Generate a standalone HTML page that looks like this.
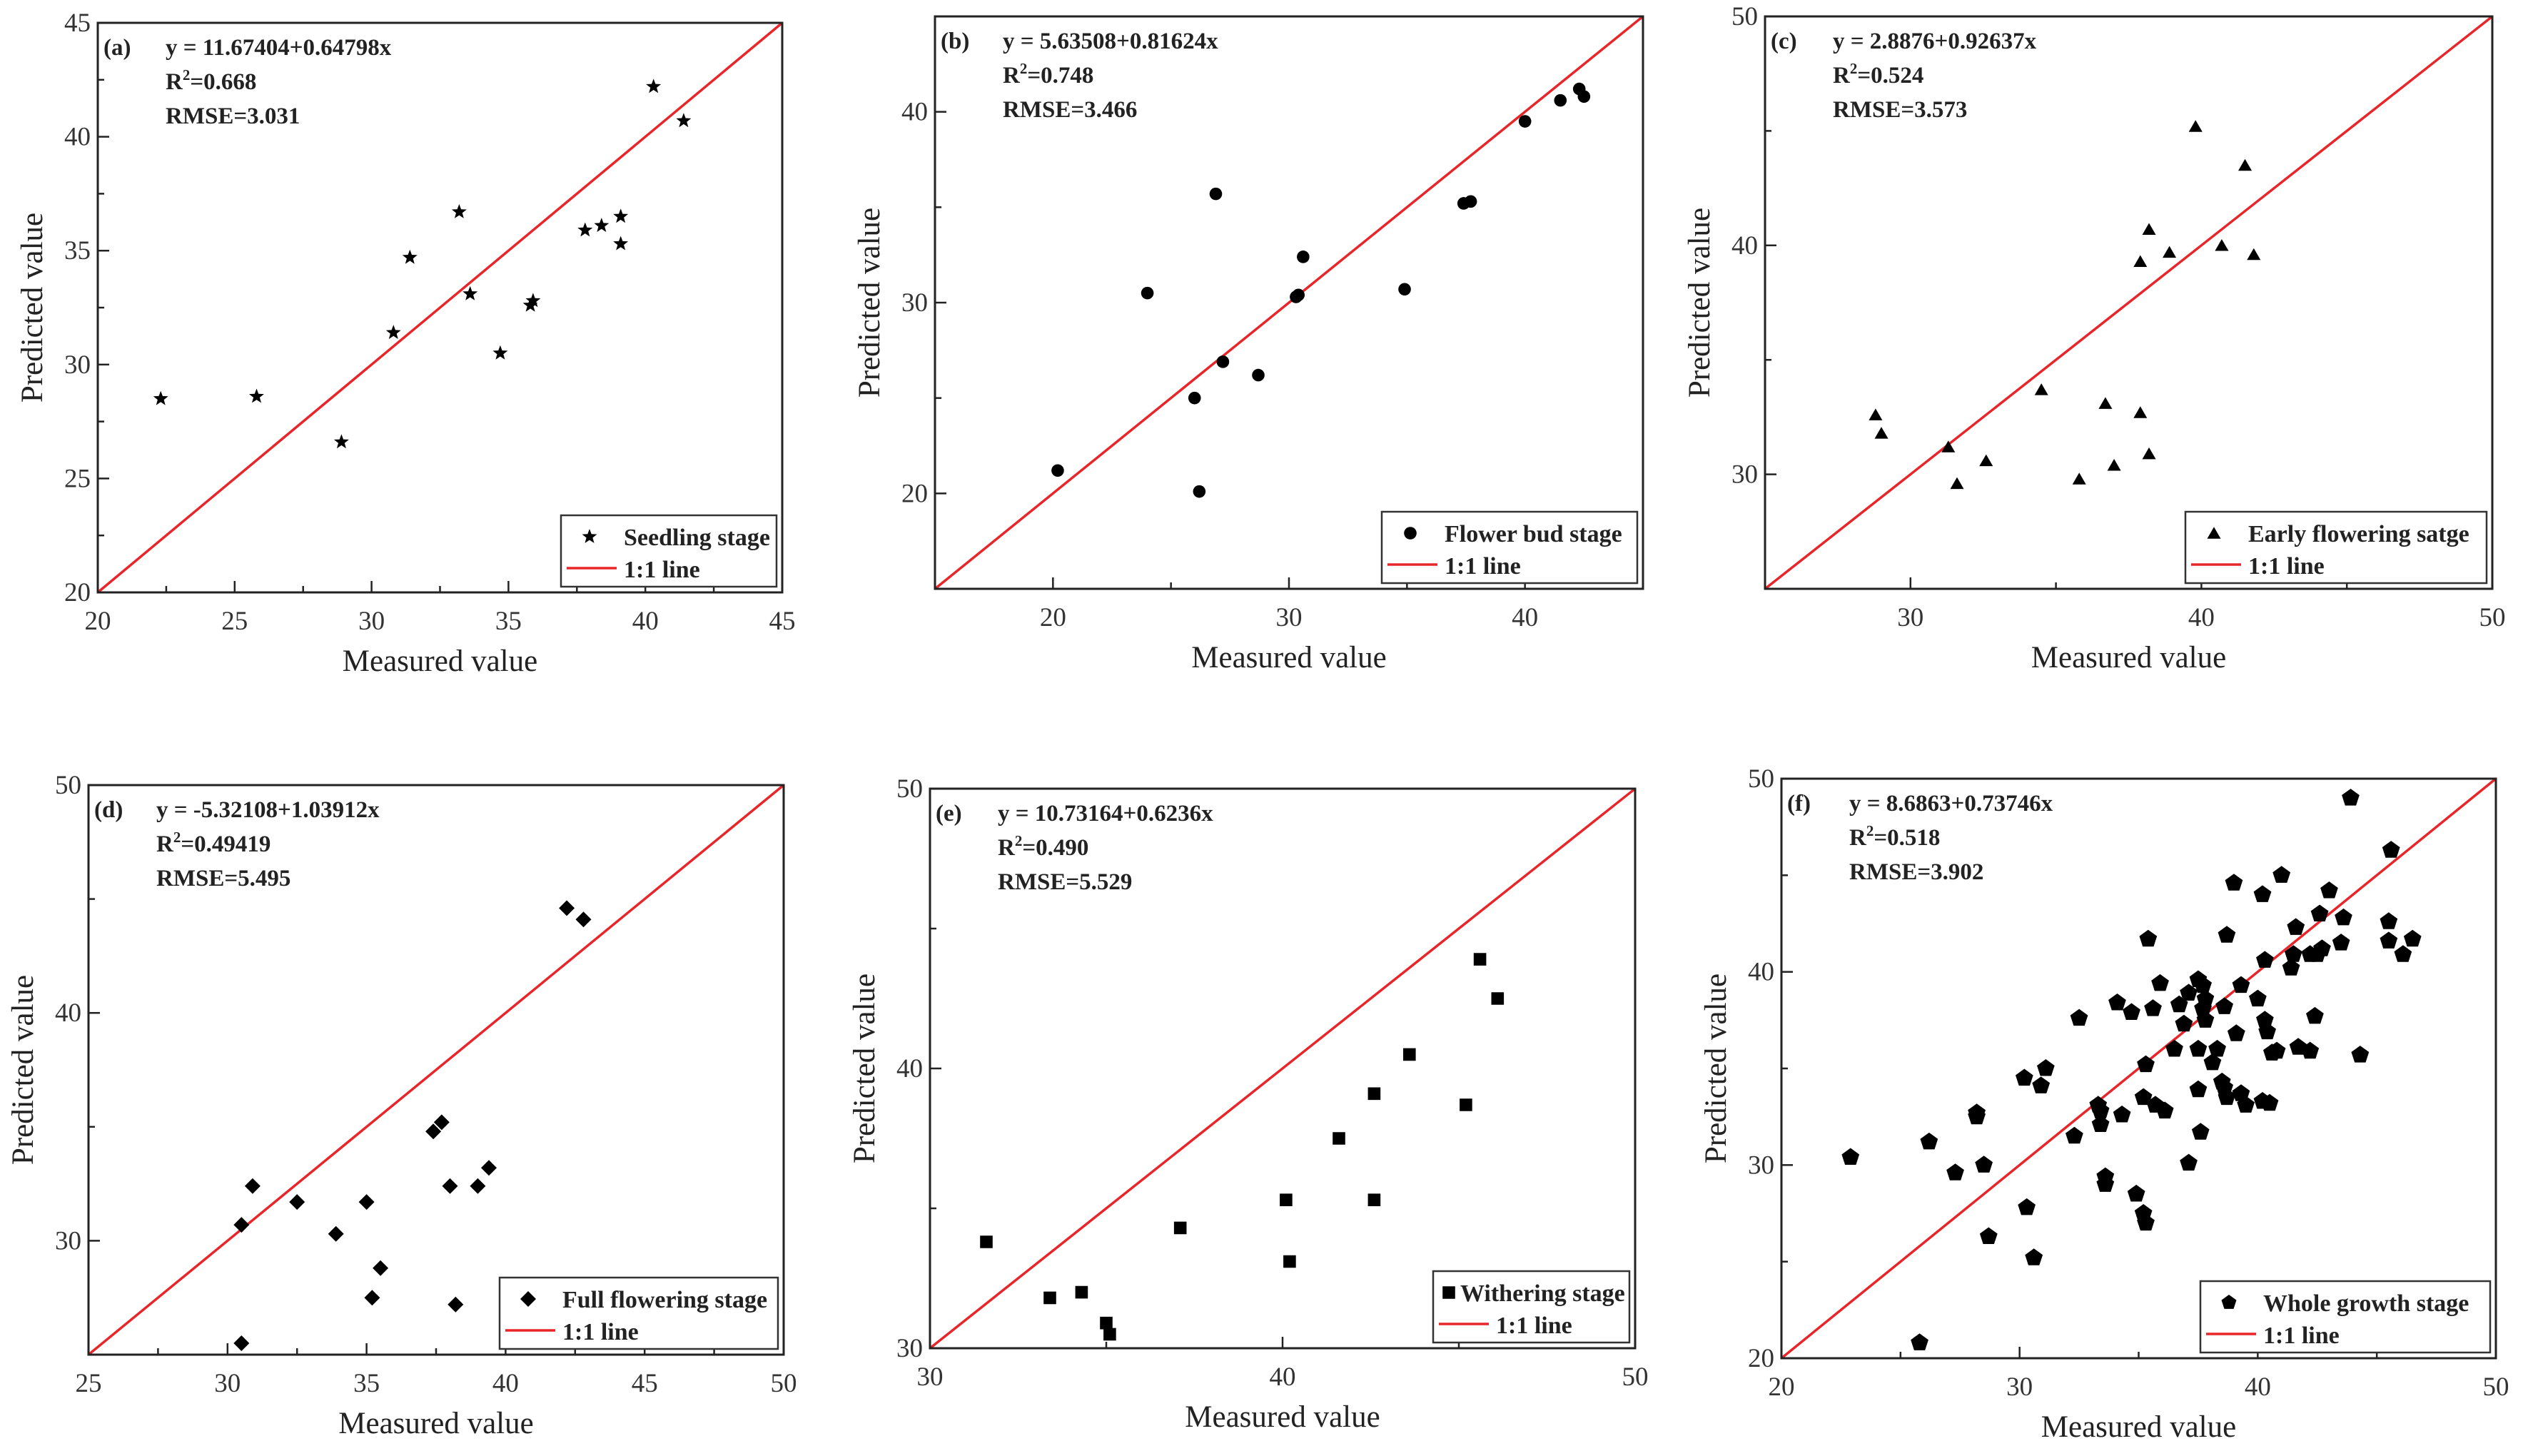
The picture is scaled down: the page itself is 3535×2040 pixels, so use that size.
<!DOCTYPE html>
<html><head><meta charset="utf-8">
<style>
html,body{margin:0;padding:0;background:#fff;}
svg{display:block;}
svg text{font-family:"Liberation Serif","DejaVu Serif",serif;}
</style></head>
<body>
<svg id="fig" width="3535" height="2040" viewBox="0 0 3535 2040" xmlns="http://www.w3.org/2000/svg" font-family="Liberation Serif, serif"></svg>
<script>
// ---- data ----
const aX=[22.3,25.8,28.9,30.8,31.4,33.2,33.6,34.7,35.8,35.9,37.8,38.4,39.1,39.1,40.3,41.4];
const aY=[28.5,28.6,26.6,31.4,34.7,36.7,33.1,30.5,32.6,32.8,35.9,36.1,36.5,35.3,42.2,40.7];
const bX=[20.2,24.0,26.0,26.2,26.9,27.2,28.7,30.3,30.4,30.6,34.9,37.4,37.7,40.0,41.5,42.3,42.5];
const bY=[21.2,30.5,25.0,20.1,35.7,26.9,26.2,30.3,30.4,32.4,30.7,35.2,35.3,39.5,40.6,41.2,40.8];
const cX=[28.8,29.0,31.3,31.6,32.6,34.5,35.8,36.7,37.0,37.9,38.2,37.9,38.2,38.9,39.8,40.7,41.5,41.8];
const cY=[32.6,31.8,31.2,29.6,30.6,33.7,29.8,33.1,30.4,32.7,30.9,39.3,40.7,39.7,45.2,40.0,43.5,39.6];
const dX=[30.5,30.5,30.9,32.5,33.9,35.0,35.2,35.5,37.4,37.7,38.0,38.2,39.0,39.4,42.2,42.8];
const dY=[30.7,25.5,32.4,31.7,30.3,31.7,27.5,28.8,34.8,35.2,32.4,27.2,32.4,33.2,44.6,44.1];
const eX=[31.6,33.4,34.3,35.0,35.1,37.1,40.1,40.2,41.6,42.6,42.6,43.6,45.2,45.6,46.1];
const eY=[33.8,31.8,32.0,30.9,30.5,34.3,35.3,33.1,37.5,39.1,35.3,40.5,38.7,43.9,42.5];
const fX=[22.9,25.8,26.2,27.3,28.2,28.2,28.5,28.7,30.2,30.3,30.6,30.9,31.1,32.3,32.5,33.3,33.4,33.4,33.6,33.6,34.1,34.3,34.7,34.9,35.2,35.3,35.2,35.3,35.4,35.6,35.7,35.9,36.1,36.5,36.7,36.9,37.1,37.1,37.5,37.5,37.5,37.6,37.7,37.7,37.8,37.8,38.1,38.3,38.5,38.6,38.6,38.7,38.7,39.0,39.1,39.3,39.3,39.5,40.0,40.2,40.2,40.3,40.3,40.4,40.5,40.6,40.8,41.0,41.4,41.5,41.6,41.7,42.2,42.2,42.4,42.5,42.6,42.7,43.0,43.5,43.6,43.9,44.3,45.5,45.5,45.6,46.1,46.5];
const fY=[30.4,20.8,31.2,29.6,32.5,32.7,30.0,26.3,34.5,27.8,25.2,34.1,35.0,31.5,37.6,33.1,32.8,32.1,29.4,29.0,38.4,32.6,37.9,28.5,27.5,27.0,33.5,35.2,41.7,38.1,33.1,39.4,32.8,36.0,38.3,37.3,30.1,38.9,39.6,36.0,33.9,31.7,39.3,38.1,37.5,38.6,35.3,36.0,34.3,38.2,34.0,41.9,33.5,44.6,36.8,39.3,33.7,33.1,38.6,44.0,33.3,40.6,37.5,36.9,33.2,35.8,35.9,45.0,40.2,40.9,42.3,36.1,35.9,40.9,37.7,40.9,43.0,41.2,44.2,41.5,42.8,49.0,35.7,42.6,41.6,46.3,40.9,41.7];
const panelIds=["a","b","c","d","e","f"];
const xDomains=[[20,45],[15,45],[25,50],[25,50],[30,50],[20,50]];
const yDomains=[[20,45],[15,45],[25,50],[25,50],[30,50],[20,50]];
const xTicks=[[20,25,30,35,40,45],[20,30,40],[30,40,50],[25,30,35,40,45,50],[30,40,50],[20,30,40,50]];
const yTicks=[[20,25,30,35,40,45],[20,30,40],[30,40,50],[30,40,50],[30,40,50],[20,30,40,50]];
const equations=["y = 11.67404+0.64798x","y = 5.63508+0.81624x","y = 2.8876+0.92637x","y = -5.32108+1.03912x","y = 10.73164+0.6236x","y = 8.6863+0.73746x"];
const r2s=["0.668","0.748","0.524","0.49419","0.490","0.518"];
const rmses=["3.031","3.466","3.573","5.495","5.529","3.902"];
const legendNames=["Seedling stage","Flower bud stage","Early flowering satge","Full flowering stage","Withering stage","Whole growth stage"];
const seriesX=[aX,bX,cX,dX,eX,fX];
const seriesY=[aY,bY,cY,dY,eY,fY];
// ---- layout ----
const boxes=[[137,1096,32,830],[1310,2302,23,825],[2473,3492,23,825],[124,1098,1100,1898],[1303,2291,1105,1889],[2496,3497,1091,1903]];
const legW=[302,358,422,390,275,406];
const markers=["star","circle","tri","diamond","square","pent"];
const NS="http://www.w3.org/2000/svg";
const svg=document.getElementById("fig");
const FF='"Liberation Serif", "DejaVu Serif", serif';
function mk(tag,attrs,parent,text){const e=document.createElementNS(NS,tag);for(const k in attrs)e.setAttribute(k,attrs[k]);if(tag==="text")e.style.fontFamily=FF;if(text!==undefined)e.textContent=text;parent.appendChild(e);return e;}
function markerPath(type,cx,cy,s){
  let pts=[];
  if(type==="star"){for(let i=0;i<10;i++){const r=i%2?s*0.42:s;const a=-Math.PI/2+i*Math.PI/5;pts.push([cx+r*Math.cos(a),cy+r*Math.sin(a)]);}}
  else if(type==="tri"){for(let i=0;i<3;i++){const a=-Math.PI/2+i*2*Math.PI/3;pts.push([cx+s*Math.cos(a),cy+s*0.2+s*Math.sin(a)]);}}
  else if(type==="diamond"){pts=[[cx,cy-s],[cx+s,cy],[cx,cy+s],[cx-s,cy]];}
  else if(type==="square"){const h=s*0.8;pts=[[cx-h,cy-h],[cx+h,cy-h],[cx+h,cy+h],[cx-h,cy+h]];}
  else if(type==="pent"){for(let i=0;i<5;i++){const a=-Math.PI/2+i*2*Math.PI/5;pts.push([cx+s*Math.cos(a),cy+s*Math.sin(a)]);}}
  return "M"+pts.map(p=>p[0].toFixed(1)+","+p[1].toFixed(1)).join("L")+"Z";
}
function drawMarker(type,cx,cy,s,parent){
  if(type==="circle")return mk("circle",{cx:cx,cy:cy,r:s*0.8,fill:"#000"},parent);
  return mk("path",{d:markerPath(type,cx,cy,s),fill:"#000"},parent);
}
for(let p=0;p<6;p++){
  const [L,R,T,B]=boxes[p];
  const xd=xDomains[p],yd=yDomains[p];
  const sx=v=>L+(v-xd[0])/(xd[1]-xd[0])*(R-L);
  const sy=v=>B-(v-yd[0])/(yd[1]-yd[0])*(B-T);
  const g=mk("g",{},svg);
  
  
  const lo=Math.max(xd[0],yd[0]),hi=Math.min(xd[1],yd[1]);
  const ln=mk("line",{x1:sx(lo),y1:sy(lo),x2:sx(hi),y2:sy(hi),stroke:"#e8262a","stroke-width":3.5},g);
  
  
  const xstep=xTicks[p][1]-xTicks[p][0],ystep=yTicks[p][1]-yTicks[p][0];
  const xt=mk("g",{},g);
  
  
  for(let v=xd[0];v<=xd[1]+1e-6;v+=xstep/2){
    const major=xTicks[p].some(t=>Math.abs(t-v)<1e-6);
    mk("line",{x1:sx(v),x2:sx(v),y1:B,y2:B-(major?16:9),stroke:"#222","stroke-width":2.5},xt);
  }
  xTicks[p].forEach(t=>{mk("text",{x:sx(t),y:B+52,"text-anchor":"middle","font-size":37,fill:"#333"},xt,String(t));});
  const yt=mk("g",{},g);
  
  
  for(let v=yd[0];v<=yd[1]+1e-6;v+=ystep/2){
    const major=yTicks[p].some(t=>Math.abs(t-v)<1e-6);
    mk("line",{x1:L,x2:L+(major?16:9),y1:sy(v),y2:sy(v),stroke:"#222","stroke-width":2.5},yt);
  }
  yTicks[p].forEach(t=>{mk("text",{x:L-10,y:sy(t)+12,"text-anchor":"end","font-size":37,fill:"#333"},yt,String(t));});
  const fr=mk("rect",{x:L,y:T,width:R-L,height:B-T,fill:"none",stroke:"#222","stroke-width":3},g);
  
  
  const xtl=mk("text",{x:(L+R)/2,y:B+110,"text-anchor":"middle","font-size":43,fill:"#222"},g,"Measured value");
  
  
  const ytx=L-78,yty=(T+B)/2;
  const ytl=mk("text",{x:ytx,y:yty,"text-anchor":"middle","font-size":43,fill:"#222",transform:`rotate(-90 ${ytx} ${yty})`},g,"Predicted value");
  
  
  const pts=mk("g",{},g);
  
  
  for(let i=0;i<seriesX[p].length;i++){
    const m=drawMarker(markers[p],sx(seriesX[p][i]),sy(seriesY[p][i]),p===5?13:11,pts);
    
    
  }
  const an=mk("g",{"font-weight":"bold","font-size":33,fill:"#222"},g);
  
  
  mk("text",{x:L+8,y:T+45},an,"("+panelIds[p]+")");
  mk("text",{x:L+95,y:T+45},an,equations[p]);
  const r2=mk("text",{x:L+95,y:T+93},an);
  r2.innerHTML='R<tspan dy="-13" font-size="21">2</tspan><tspan dy="13">='+r2s[p]+'</tspan>';
  mk("text",{x:L+95,y:T+141},an,"RMSE="+rmses[p]);
  const lw=legW[p],lh=100,lx=R-8-lw,ly=B-8-lh;
  const lg=mk("g",{},g);
  
  
  mk("rect",{x:lx,y:ly,width:lw,height:lh,fill:"#fff",stroke:"#333","stroke-width":2.5},lg);
  if(p===4){
    drawMarker("square",lx+22,ly+30,11,lg);
    mk("text",{x:lx+38,y:ly+42,"font-size":34,"font-weight":"bold",fill:"#222"},lg,legendNames[p]);
  } else {
    drawMarker(markers[p],lx+40,ly+30,11,lg);
    mk("text",{x:lx+88,y:ly+42,"font-size":34,"font-weight":"bold",fill:"#222"},lg,legendNames[p]);
  }
  mk("line",{x1:lx+8,x2:lx+78,y1:ly+74,y2:ly+74,stroke:"#e8262a","stroke-width":3.5},lg);
  mk("text",{x:lx+88,y:ly+87,"font-size":34,"font-weight":"bold",fill:"#222"},lg,"1:1 line");
}
</script>
</body></html>
